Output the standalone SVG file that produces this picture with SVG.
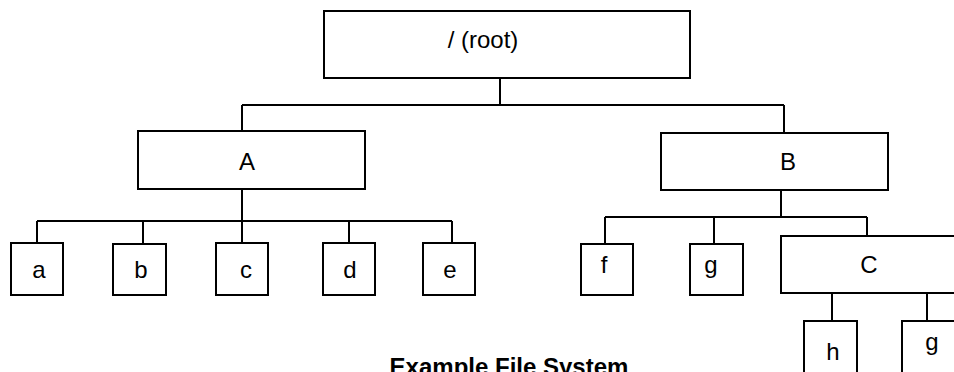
<svg xmlns="http://www.w3.org/2000/svg" width="954" height="372" viewBox="0 0 954 372">
<style>
.box{fill:#fff;stroke:#000;stroke-width:2}
.ln{fill:none;stroke:#000;stroke-width:2}
text{font-family:"Liberation Sans",Arial,sans-serif;font-size:24px;fill:#000;text-anchor:middle}
.title{font-weight:bold}
</style>
<rect width="954" height="372" fill="#fff"/>
<g id="connectors" class="ln">
<path d="M500 78V105M242 105H784M242 105V131M784 105V133"/>
<path d="M242 189V221M37 221H452M37 221V243M143 221V244M242 221V243M349 221V243M452 221V243"/>
<path d="M781 190V217M605 217H867M605 217V244M714 217V244M867 217V236"/>
<path d="M832 293V321M927 293V321"/>
</g>
<g id="root"><rect class="box" x="324" y="11" width="366" height="67"/><text x="483" y="48">/ (root)</text></g>
<g id="A"><rect class="box" x="138" y="131" width="227" height="58"/><text x="247" y="170">A</text></g>
<g id="B"><rect class="box" x="661" y="133" width="227" height="57"/><text x="788" y="170">B</text></g>
<g id="a"><rect class="box" x="11" y="243" width="52" height="52"/><text x="39" y="278">a</text></g>
<g id="b"><rect class="box" x="113" y="244" width="53" height="51"/><text x="141" y="278">b</text></g>
<g id="c"><rect class="box" x="216" y="243" width="52" height="52"/><text x="246" y="278">c</text></g>
<g id="d"><rect class="box" x="323" y="243" width="52" height="52"/><text x="350" y="278">d</text></g>
<g id="e"><rect class="box" x="423" y="243" width="52" height="52"/><text x="450" y="278">e</text></g>
<g id="f"><rect class="box" x="581" y="244" width="52" height="51"/><text x="604" y="273">f</text></g>
<g id="g"><rect class="box" x="690" y="244" width="53" height="51"/><text x="711" y="273">g</text></g>
<g id="C"><rect class="box" x="781" y="236" width="190" height="57"/><text x="869" y="273">C</text></g>
<g id="h"><rect class="box" x="804" y="321" width="53" height="60"/><text x="833" y="360">h</text></g>
<g id="g2"><rect class="box" x="902" y="321" width="70" height="60"/><text x="932" y="350">g</text></g>
<g id="caption"><text class="title" x="509" y="375" font-size="26">Example File System</text></g>
</svg>
